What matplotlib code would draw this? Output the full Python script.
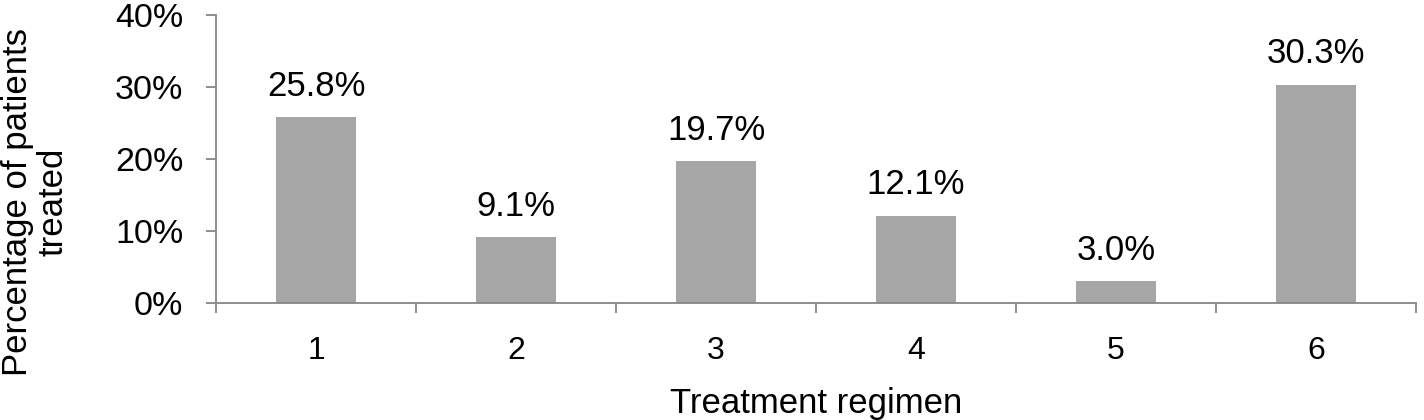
import matplotlib
matplotlib.use("Agg")
import matplotlib.pyplot as plt
import numpy as np

# data
regimens = ["1", "2", "3", "4", "5", "6"]
pct = [25.8, 9.1, 19.7, 12.1, 3.0, 30.3]
yticks = [0, 10, 20, 30, 40]

plt.rcParams['font.family'] = ['Liberation Sans', 'DejaVu Sans']

fig = plt.figure(figsize=(14.24, 4.2), dpi=100)
ax = fig.add_axes([0.1517, 0.2786, 0.8427, 0.6857])

x = np.arange(1, len(regimens) + 1)
ax.bar(x, pct, width=0.4, color='#a6a6a6')

for xi, v in zip(x, pct):
    ax.annotate('%.1f%%' % v, (xi, v), xytext=(0, 15.5), textcoords='offset points',
                ha='center', va='baseline', fontsize=25)

ax.set_xlim(0.5, 6.5)
ax.set_ylim(0, 40)
ax.set_yticks(yticks)
ax.set_yticklabels(['%d%%' % t for t in yticks], fontsize=24.5)
ax.set_xticks(x)
ax.set_xticklabels(regimens, fontsize=23)
ax.set_xticks(np.arange(0.5, 7, 1), minor=True)

axis_col = '#868686'
for s in ['top', 'right']:
    ax.spines[s].set_visible(False)
for s in ['left', 'bottom']:
    ax.spines[s].set_color(axis_col)
    ax.spines[s].set_linewidth(1.3)

ax.tick_params(axis='y', length=7.5, width=1.3, color=axis_col, pad=16)
ax.tick_params(axis='x', which='major', length=0, pad=24)
ax.tick_params(axis='x', which='minor', length=7.5, width=1.3, color=axis_col)

ax.set_xlabel('Treatment regimen', fontsize=25, labelpad=15)
ax.set_ylabel('Percentage of patients\ntreated', fontsize=25, linespacing=1.1)
ax.yaxis.set_label_coords(-0.122, 0.351)

fig.savefig('out.png', dpi=100)
